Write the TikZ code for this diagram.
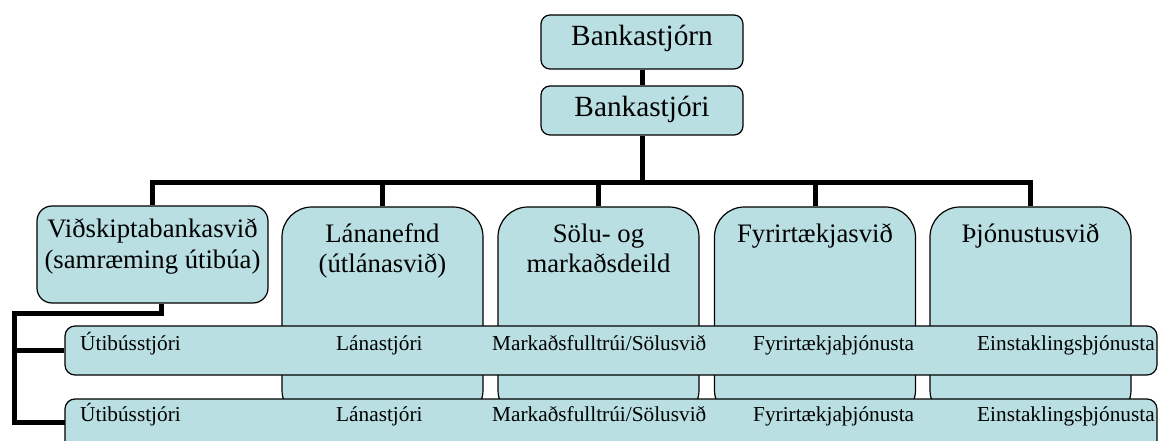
\documentclass[tikz,border=0pt]{standalone}
\usepackage{fontspec}
\setmainfont{Liberation Serif}
\newfontfamily\chartserif{Liberation Serif}
\usetikzlibrary{calc}
\definecolor{boxfill}{RGB}{185,223,227}
\begin{document}
\begin{tikzpicture}[x=1pt,y=-1pt,
  box/.style={draw=black, line width=1.2pt, fill=boxfill, inner sep=0pt},
  topbox/.style={box, rounded corners=9pt, minimum width=202pt},
  divbox/.style={box, rounded corners=30pt, minimum width=201pt, minimum height=213pt},
  strip/.style={box, rounded corners=10pt, minimum width=1092pt},
  conn/.style={line width=5pt, black},
  bigtxt/.style={inner sep=0pt, anchor=base, font=\chartserif\fontsize{29.3}{35}\selectfont},
  midtxt/.style={inner sep=0pt, anchor=base, font=\chartserif\fontsize{26.7}{31}\selectfont},
  smalltxt/.style={inner sep=0pt, anchor=base west, font=\chartserif\fontsize{21.3}{25}\selectfont}
]
\useasboundingbox (0,0) rectangle (1159,441);
\clip (0,0) rectangle (1159,441);

% top of the hierarchy
\node[topbox, minimum height=54pt] (board) at (642,42) {};
\node[topbox, minimum height=49pt] (ceo) at (642,110.5) {};

% divisions
\node[box, rounded corners=15pt, minimum width=231pt, minimum height=97pt] (vid) at (152.5,254.5) {};
\node[divbox] (lan) at (382.5,313.5) {};
\node[divbox] (sol) at (598.5,313.5) {};
\node[divbox] (fyr) at (815,313.5) {};
\node[divbox] (thj) at (1030.5,313.5) {};

% connectors
\coordinate (bus) at (642,182.5);
\draw[conn] (board.south) -- (ceo.north);
\draw[conn] (ceo.south) -- (bus);
\draw[conn] (vid.north) |- (bus) -| (thj.north);
\foreach \n in {lan,sol,fyr} \draw[conn] (\n.north) -- (\n.north |- bus);

% branch rows
\node[strip, minimum height=49pt] (s1) at (611,350.5) {};
\node[strip, minimum height=66pt] (s2) at (611,432) {};

\coordinate (vidout) at ([xshift=8.5pt]vid.south);
\coordinate (spine) at (14,313.5);
\coordinate (s2in) at (65,422.5);
\draw[conn] (vidout) |- (spine) |- (s2in);
\draw[conn] (spine |- s1.west) -- (s1.west);

% labels
\node[bigtxt] (tboard) at (642,46) {Bankastjórn};
\node[bigtxt] (tceo) at (642,117) {Bankastjóri};

\node[midtxt] (tvid1) at (152.5,237) {Viðskiptabankasvið};
\node[midtxt] (tvid2) at (152.5,268) {(samræming útibúa)};
\node[midtxt] (tlan1) at (382.5,242.5) {Lánanefnd};
\node[midtxt] (tlan2) at (382.5,272) {(útlánasvið)};
\node[midtxt] (tsol1) at (598.5,242.5) {Sölu- og};
\node[midtxt] (tsol2) at (598.5,272) {markaðsdeild};
\node[midtxt] (tfyr) at (815,242.5) {Fyrirtækjasvið};
\node[midtxt] (tthj) at (1030.5,242.5) {Þjónustusvið};

\foreach \row/\yy in {a/350, b/421.7} {
  \node[smalltxt] (u\row) at (80,\yy) {Útibússtjóri};
  \node[smalltxt] (l\row) at (336,\yy) {Lánastjóri};
  \node[smalltxt] (m\row) at (492,\yy) {Markaðsfulltrúi/Sölusvið};
  \node[smalltxt] (f\row) at (753,\yy) {Fyrirtækjaþjónusta};
  \node[smalltxt] (e\row) at (977,\yy) {Einstaklingsþjónusta};
}
\end{tikzpicture}
\end{document}
